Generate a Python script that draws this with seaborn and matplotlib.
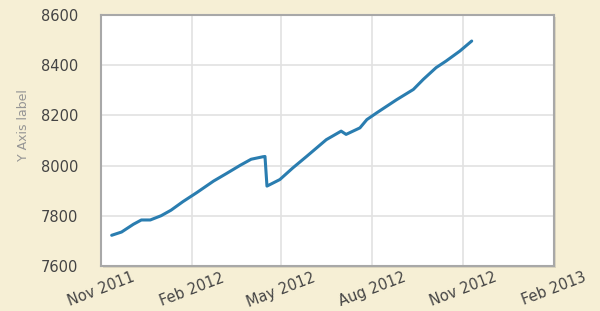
import matplotlib
matplotlib.use("Agg")
import matplotlib.pyplot as plt
import matplotlib.dates as mdates
from matplotlib.patches import Rectangle
import seaborn as sns
import pandas as pd


dates = [
    "2011-11-12", "2011-11-22", "2011-12-04", "2011-12-12", "2011-12-21",
    "2012-01-01", "2012-01-11", "2012-01-23", "2012-02-06", "2012-02-23",
    "2012-03-07", "2012-03-21", "2012-04-01", "2012-04-13", "2012-04-15",
    "2012-04-17", "2012-04-30", "2012-05-13", "2012-05-27", "2012-06-16",
    "2012-07-01", "2012-07-06", "2012-07-20", "2012-07-27", "2012-08-06",
    "2012-08-26", "2012-09-12", "2012-09-22", "2012-10-05", "2012-10-15",
    "2012-10-29", "2012-11-10",
]
values = [
    7722, 7735, 7766, 7783, 7783,
    7800, 7822, 7856, 7892, 7938,
    7968, 8001, 8025, 8035, 8036,
    7918, 7944, 7990, 8036, 8103,
    8137, 8124, 8150, 8183, 8210,
    8262, 8303, 8343, 8390, 8416,
    8456, 8496,
]
x_ticks = ["2011-11-01", "2012-02-01", "2012-05-01", "2012-08-01", "2012-11-01", "2013-02-01"]
y_ticks = [7600, 7800, 8000, 8200, 8400, 8600]

df = pd.DataFrame({"date": pd.to_datetime(dates), "value": values})

sns.set_theme(style="whitegrid")
plt.rcParams["font.family"] = ["DejaVu Sans"]

bg = "#f6efd5"
fig = plt.figure(figsize=(6, 3.11), dpi=100, facecolor=bg)
rect = [0.168, 0.145, 0.755, 0.807]
ax = fig.add_axes(rect)
ax.set_facecolor("white")

# soft drop shadow under the plot box
shadow = Rectangle((rect[0] + 0.004, rect[1] - 0.008), rect[2], rect[3],
                   transform=fig.transFigure, facecolor="#ddd6bf",
                   edgecolor="none", zorder=-1)
fig.patches.append(shadow)

sns.lineplot(data=df, x="date", y="value", ax=ax, color="#2a7db0", linewidth=2.2)

tick_dates = pd.to_datetime(x_ticks)
ax.set_xlim(tick_dates[0], tick_dates[-1])
ax.set_xticks(tick_dates)
ax.xaxis.set_major_formatter(mdates.DateFormatter("%b %Y"))
ax.set_ylim(7600, 8600)
ax.set_yticks(y_ticks)

ax.grid(True, color="#e2e2e2", linewidth=1.2)
for s in ax.spines.values():
    s.set_color("#a8a8a8")
    s.set_linewidth(1.5)

ax.tick_params(axis="both", length=3, color="#c4c4c4", labelcolor="#444444", labelsize=10.5)
ax.tick_params(axis="y", pad=13)
ax.tick_params(axis="x", pad=0)
for lbl in ax.get_xticklabels():
    lbl.set_rotation(21)
    lbl.set_ha("center")

ax.set_xlabel("")
ax.set_ylabel("Y Axis label", color="#959595", fontsize=9)
ax.yaxis.set_label_coords(-0.157, 0.56)

fig.savefig("out.png", dpi=100, facecolor=bg)
